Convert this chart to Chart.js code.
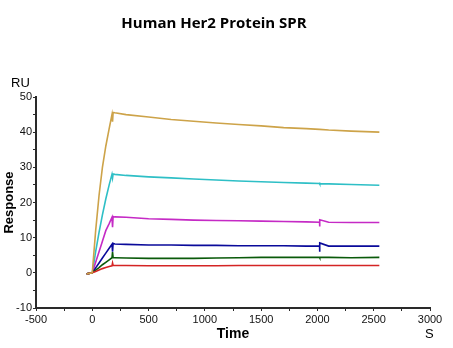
<!DOCTYPE html>
<html>
<head>
<meta charset="utf-8">
<script src="https://cdn.jsdelivr.net/npm/chart.js@4.4.1/dist/chart.umd.min.js"></script>
<style>
  html, body { margin: 0; padding: 0; background: #fff; }
  #wrap { position: relative; width: 453px; height: 348px; }
  #title { position: absolute; left: 0; top: 12px; width: 428px; text-align: center;
           font: bold 15px "Open Sans", sans-serif; color: #000; }
  #ru { position: absolute; left: 11px; top: 75px; font: 13px "Liberation Sans", Arial, sans-serif; color: #000; }
  #su { position: absolute; left: 425px; top: 326px; font: 13px "Liberation Sans", Arial, sans-serif; color: #000; }
  canvas { position: absolute; left: 0; top: 0; }
</style>
</head>
<body>
<div id="wrap">
  <canvas id="c" width="453" height="348"></canvas>
  <div id="title">Human Her2 Protein SPR</div>
  <div id="ru">RU</div>
  <div id="su">S</div>
</div>
<script>
// Time points (s)
const times = [-50, 0, 30, 60, 90, 120, 150, 175, 180, 185, 200, 300, 500, 700, 900, 1100, 1300, 1500, 1700, 1900, 2019, 2020, 2021, 2100, 2300, 2550];

// Response values (RU) per concentration series
const gold    = [-0.3, 0, 12, 22, 30, 36, 41, 45, 43, 45.6, 45.5, 45.0, 44.3, 43.6, 43.1, 42.6, 42.2, 41.8, 41.3, 41.0, 40.8, 40.8, 40.8, 40.6, 40.3, 40.0];
const cyan    = [-0.3, 0, 6, 11.5, 16.5, 21, 25, 28, 27, 28.1, 28.0, 27.7, 27.3, 27.0, 26.7, 26.4, 26.1, 25.9, 25.7, 25.5, 25.4, 25.7, 25.3, 25.3, 25.1, 24.9];
const magenta = [-0.3, 0, 3, 6, 9, 12, 14, 15.8, 13, 16.0, 15.9, 15.8, 15.4, 15.2, 15.0, 14.9, 14.8, 14.7, 14.6, 14.5, 14.4, 13.2, 15.1, 14.4, 14.3, 14.3];
const blue    = [-0.3, 0, 1.4, 2.8, 4.2, 5.6, 7.0, 8.1, 6.0, 8.4, 8.2, 8.1, 7.9, 7.9, 7.8, 7.8, 7.7, 7.7, 7.7, 7.6, 7.6, 6.0, 8.5, 7.6, 7.6, 7.6];
const green   = [-0.3, 0, 0.8, 1.5, 2.3, 3.0, 3.7, 4.3, 5.9, 4.3, 4.3, 4.2, 4.1, 4.1, 4.1, 4.2, 4.3, 4.4, 4.4, 4.4, 4.4, 4.3, 4.4, 4.4, 4.3, 4.4];
const red     = [-0.3, 0, 0.4, 0.8, 1.2, 1.5, 1.8, 2.0, 2.8, 2.1, 2.1, 2.1, 2.0, 2.0, 2.0, 2.0, 2.1, 2.1, 2.1, 2.1, 2.1, 2.1, 2.1, 2.1, 2.1, 2.1];

const seriesList = [
  { name: 'gold', values: gold, color: '#CDA349' },
  { name: 'red', values: red, color: '#D42424' },
  { name: 'green', values: green, color: '#0A5A0A' },
  { name: 'blue', values: blue, color: '#0A0A9A' },
  { name: 'magenta', values: magenta, color: '#C52AC5' },
  { name: 'cyan', values: cyan, color: '#2EBFC6' }
];

const xTickLabels = [-500, 0, 500, 1000, 1500, 2000, 2500, 3000];
const yTickLabels = [-10, 0, 10, 20, 30, 40, 50];

const datasets = seriesList.map(s => ({
  label: s.name,
  data: times.map((t, i) => ({ x: t, y: s.values[i] })),
  borderColor: s.color,
  backgroundColor: s.color,
  borderWidth: 1.6,
  pointRadius: 0,
  showLine: true,
  tension: 0,
  fill: false
}));

const axisColor = '#2a2a2a';
const tickFont = { family: '"Liberation Sans", Arial, sans-serif', size: 11 };

new Chart(document.getElementById('c'), {
  type: 'scatter',
  data: { datasets },
  options: {
    responsive: false,
    animation: false,
    layout: { padding: { top: 97, right: 23, left: 0, bottom: 0 } },
    plugins: { legend: { display: false }, tooltip: { enabled: false }, title: { display: false } },
    scales: {
      x: {
        type: 'linear',
        min: xTickLabels[0], max: xTickLabels[xTickLabels.length - 1],
        afterFit: s => { s.height = 40; },
        border: { display: true, color: axisColor, width: 2 },
        grid: { display: true, drawOnChartArea: false, drawTicks: true, tickLength: 3, color: axisColor, lineWidth: 1 },
        ticks: {
          stepSize: 250, color: '#111', font: tickFont, padding: 2, maxRotation: 0,
          callback: v => xTickLabels.includes(v) ? String(v) : ''
        },
        title: { display: true, text: 'Time', color: '#000',
                 font: { family: '"Liberation Sans", Arial, sans-serif', size: 14, weight: 'bold' },
                 padding: { top: 0, bottom: 5 } }
      },
      y: {
        type: 'linear',
        min: yTickLabels[0], max: yTickLabels[yTickLabels.length - 1],
        afterFit: s => { s.width = 36; },
        border: { display: true, color: axisColor, width: 2 },
        grid: { display: true, drawOnChartArea: false, drawTicks: true, tickLength: 3, color: axisColor, lineWidth: 1 },
        ticks: {
          stepSize: 5, color: '#111', font: tickFont, padding: 1,
          callback: v => yTickLabels.includes(v) ? String(v) : ''
        },
        title: { display: true, text: 'Response', color: '#000',
                 font: { family: '"Liberation Sans", Arial, sans-serif', size: 13, weight: 'bold' },
                 padding: { top: 2, bottom: 0 } }
      }
    }
  }
});
</script>
</body>
</html>
